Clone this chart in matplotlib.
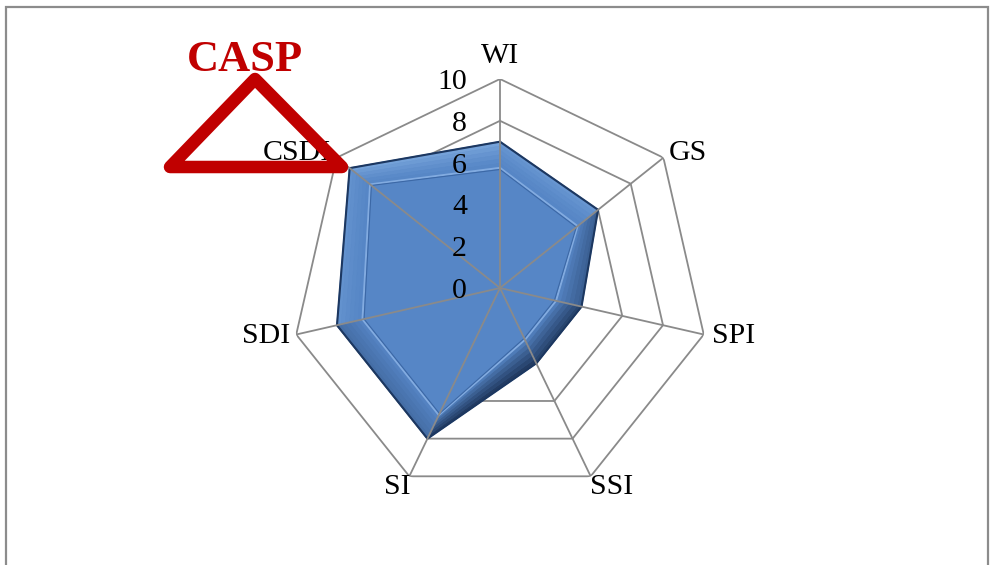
import numpy as np
import matplotlib
matplotlib.use("Agg")
import matplotlib.pyplot as plt
from matplotlib.patches import Polygon, Rectangle
from matplotlib.transforms import offset_copy

# Chart data
categories = ["WI", "GS", "SPI", "SSI", "SI", "SDI", "CSDI"]
scores = [7, 6, 4, 4, 8, 8, 9.2]
ring_levels = [2, 4, 6, 8, 10]
tick_values = [0, 2, 4, 6, 8, 10]
tick_labels = ["0", "2", "4", "6", "8", "10"]
badge_text = "CASP"

plt.rcParams["font.family"] = ["Liberation Serif", "DejaVu Serif"]

W, H = 992, 565

BASE = np.array([0.337, 0.525, 0.776])
DARK = np.array([0.09, 0.17, 0.30])
LIGHT = np.array([0.62, 0.78, 0.95])


def mix(a, b, f):
    return tuple(np.clip(a + (b - a) * f, 0, 1))


def main():
    fig = plt.figure(figsize=(W / 100, H / 100), dpi=100)
    # polar axes centred at (500, 288) px with radius 209 px
    cx, cy, rad = 500, 288, 209
    ax = fig.add_axes([(cx - rad) / W, (H - cy - rad) / H, 2 * rad / W, 2 * rad / H],
                      projection="polar")
    ax.set_theta_zero_location("N")
    ax.set_theta_direction(-1)
    ax.set_ylim(0, 10)
    ax.axis("off")

    n = len(categories)
    theta = [2 * np.pi * i / n for i in range(n)]
    theta_c = theta + theta[:1]

    # heptagon rings (under the polygon)
    for lvl in ring_levels:
        ax.plot(theta_c, [lvl] * (n + 1), color="#8a8a8a", lw=1.3, zorder=1)

    # filled series
    vals = scores + scores[:1]
    ax.fill(theta_c, vals, color=tuple(BASE), zorder=2)

    # bevel: shade each edge band by its facing direction
    depth = 1.25
    steps = 6
    light_dir = np.array([-0.35, 0.94])
    for i in range(n):
        t0, t1 = theta_c[i], theta_c[i + 1]
        v0, v1 = vals[i], vals[i + 1]
        p0 = np.array([v0 * np.sin(t0), v0 * np.cos(t0)])
        p1 = np.array([v1 * np.sin(t1), v1 * np.cos(t1)])
        d = p1 - p0
        # vertices run clockwise, so the outward normal is (-dy, dx)
        normal = np.array([-d[1], d[0]]) / np.hypot(*d)
        s = float(normal @ light_dir)
        for k in range(steps):
            a = depth * k / steps
            b = depth * (k + 1) / steps
            f = 1 - (k + 0.5) / steps
            if s >= 0:
                col = mix(BASE, LIGHT, 0.5 * s * f ** 1.5)
            else:
                col = mix(BASE, DARK, 0.9 * (-s) * f ** 0.8)
            ax.fill([t0, t1, t1, t0], [v0 - a, v1 - a, v1 - b, v0 - b],
                    color=col, ec=col, lw=0.4, zorder=2)

    ax.plot(theta_c, vals, color="#1c3760", lw=1.5, zorder=3)
    inner = [v - depth for v in vals]
    ax.plot(theta_c, inner, color="#82abe0", lw=1.4, zorder=3)
    inner2 = [v - depth - 0.08 for v in vals]
    ax.plot(theta_c, inner2, color="#3c68a6", lw=0.8, zorder=3)

    # spokes (on top of the polygon)
    for t in theta:
        ax.plot([t, t], [0, 10], color="#8a8a8a", lw=1.3, zorder=4)

    # category labels
    label_pos = [
        (10.5, "center", "bottom"),
        (10.35, "left", "center"),
        (10.4, "left", "center"),
        (9.9, "left", "top"),
        (9.9, "right", "top"),
        (10.3, "right", "center"),
        (10.35, "right", "center"),
    ]
    for t, lab, (r, ha, va) in zip(theta, categories, label_pos):
        ax.text(t, r, lab, ha=ha, va=va, fontsize=21.5, color="black", zorder=5)

    # radial tick labels along the WI spoke
    tr = offset_copy(ax.transData, fig=fig, x=-33, y=-3, units="dots")
    for v, s in zip(tick_values, tick_labels):
        ax.text(0, v, s, transform=tr, ha="right", va="center",
                fontsize=21.5, color="black", zorder=5)

    # chart frame
    fig.patches.append(Rectangle((6 / W, -0.05), 982 / W, 1 - 7 / H + 0.05,
                                 transform=fig.transFigure, fill=False,
                                 ec="#8c8c8c", lw=1.6))

    # red CASP badge
    fig.text(245 / W, 1 - 60 / H, badge_text, ha="center", va="center",
             fontsize=32, fontweight="bold", color="#c00000")
    tri = [(170, 167), (255, 79), (342, 167)]
    fig.patches.append(Polygon([(x / W, 1 - y / H) for x, y in tri], closed=True,
                               transform=fig.transFigure, fill=False,
                               ec="#c00000", lw=9, joinstyle="round", zorder=10))

    fig.savefig("out.png", dpi=100)


if __name__ == "__main__":
    main()
